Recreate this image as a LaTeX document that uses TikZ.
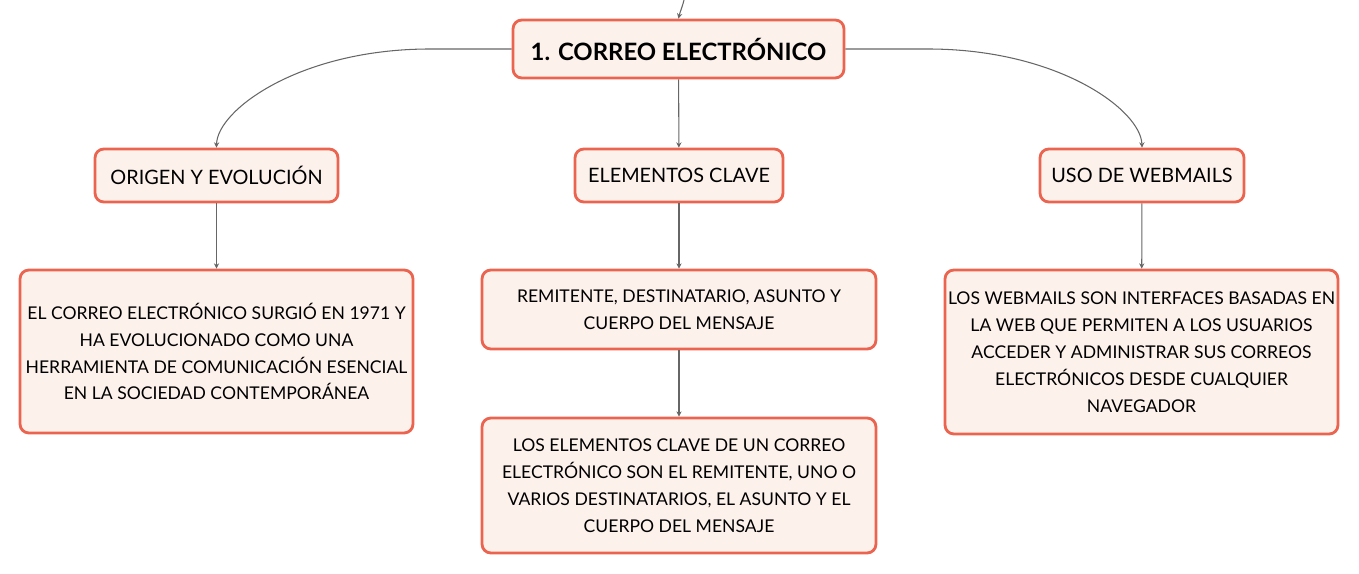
\documentclass[tikz,border=0pt]{standalone}
\usepackage{fontspec}
\setmainfont{Lato}
\usetikzlibrary{arrows.meta}
\definecolor{boxline}{HTML}{EB6450}
\definecolor{boxfill}{HTML}{FDF1EC}
\definecolor{wire}{HTML}{666666}
\tikzset{>={Stealth[length=3pt,width=3pt]}}
\tikzset{
    topic/.style={draw=boxline, fill=boxfill, line width=1.6pt, rounded corners=5pt,
        align=center, inner sep=0pt},
    link/.style={draw=wire, line width=.6pt, ->}
}

\begin{document}
\begin{tikzpicture}[x=.02cm, y=-.02cm]
    \useasboundingbox (0,0) rectangle (1359,574);

    \node[topic, minimum width=6.62cm, minimum height=1.16cm, font=\fontsize{13.6}{16}\selectfont\bfseries] (root) at (678.5,49) {1. CORREO ELECTRÓNICO};

    \node[topic, minimum width=4.86cm, minimum height=1.06cm, font=\fontsize{11.3}{13}\selectfont] (origen) at (216.5,175.5) {ORIGEN Y EVOLUCIÓN};
    \node[topic, minimum width=4.16cm, minimum height=1.06cm, font=\fontsize{11.3}{13}\selectfont] (clave) at (679,175.5) {ELEMENTOS CLAVE};
    \node[topic, minimum width=4.08cm, minimum height=1.06cm, font=\fontsize{11.3}{13}\selectfont] (webmail) at (1142,175.5) {USO DE WEBMAILS};

    \node[topic, minimum width=7.86cm, minimum height=3.26cm, font=\fontsize{10}{15.3}\selectfont] (origentxt) at (216.5,351.5)
        {EL CORREO ELECTRÓNICO SURGIÓ EN 1971 Y\\HA EVOLUCIONADO COMO UNA\\HERRAMIENTA DE COMUNICACIÓN ESENCIAL\\EN LA SOCIEDAD CONTEMPORÁNEA};
    \node[topic, minimum width=7.88cm, minimum height=1.58cm, font=\fontsize{10}{15.3}\selectfont] (partes) at (679,309.5)
        {REMITENTE, DESTINATARIO, ASUNTO Y\\CUERPO DEL MENSAJE};
    \node[topic, minimum width=7.88cm, minimum height=2.7cm, font=\fontsize{10}{15.3}\selectfont] (clavetxt) at (679,485.5)
        {LOS ELEMENTOS CLAVE DE UN CORREO\\ELECTRÓNICO SON EL REMITENTE, UNO O\\VARIOS DESTINATARIOS, EL ASUNTO Y EL\\CUERPO DEL MENSAJE};
    \node[topic, minimum width=7.86cm, minimum height=3.28cm, font=\fontsize{10}{15.3}\selectfont] (webmailtxt) at (1141.5,352)
        {LOS WEBMAILS SON INTERFACES BASADAS EN\\LA WEB QUE PERMITEN A LOS USUARIOS\\ACCEDER Y ADMINISTRAR SUS CORREOS\\ELECTRÓNICOS DESDE CUALQUIER\\NAVEGADOR};

    \coordinate (parent) at (684,0);
    \draw[link] (parent) .. controls (682,8) and (680,12) .. (root.north);

    \draw[link] (root.west) -- (430,49) .. controls (300,49) and (217,110) .. (origen.north);
    \draw[link] (root.east) -- (928,49) .. controls (1058,49) and (1141,110) .. (webmail.north);
    \draw[link] (root) -- (clave);

    \draw[link] (origen) -- (origentxt);
    \draw[link] (clave) -- (partes);
    \draw[link] (partes) -- (clavetxt);
    \draw[link] (webmail) -- (webmailtxt);
\end{tikzpicture}
\end{document}
